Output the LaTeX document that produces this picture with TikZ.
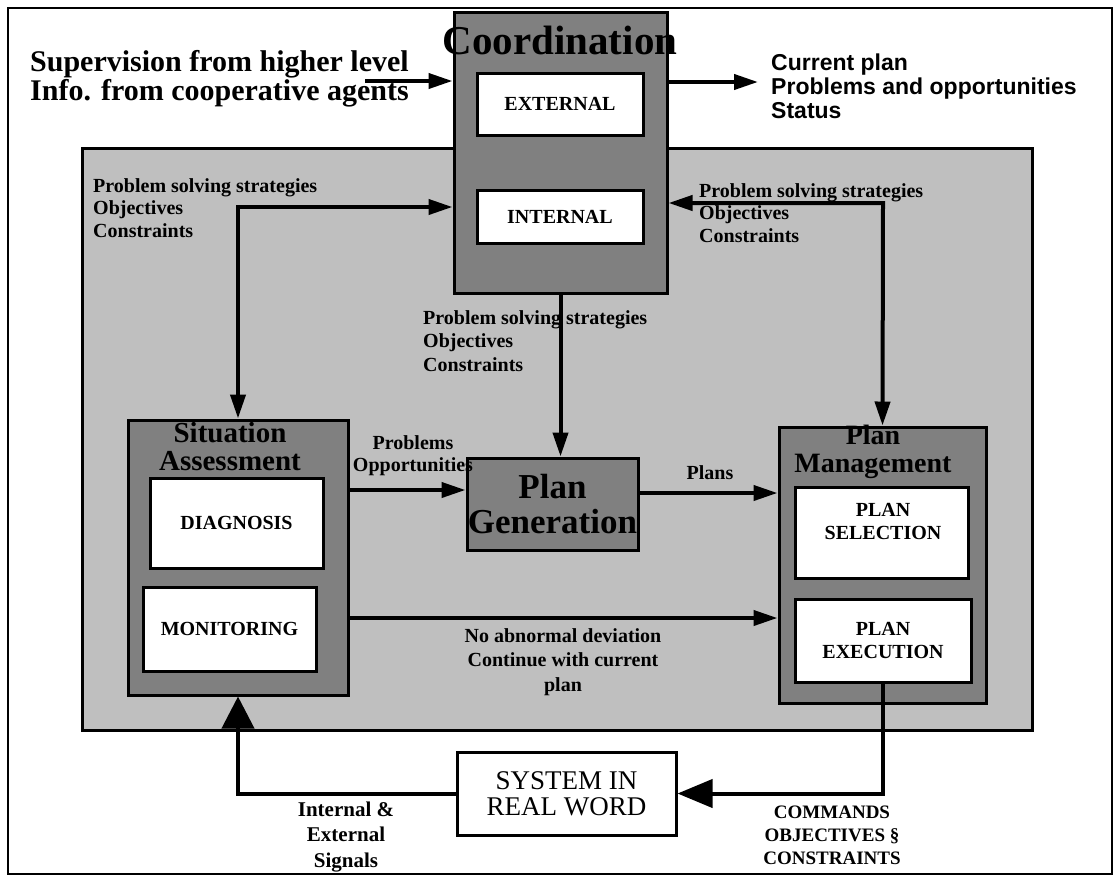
\documentclass[tikz,border=0pt]{standalone}
\usepackage{fontspec}
\setmainfont{Liberation Serif}
\setsansfont{Liberation Sans}
\usetikzlibrary{arrows.meta}
\newcommand\myfs[2]{\fontsize{#1}{#2}\selectfont}
\begin{document}
\begin{tikzpicture}[x=1pt,y=-1pt,
  darkbox/.style={draw, line width=3pt, fill=black!50, inner sep=0pt},
  whitebox/.style={draw, line width=3pt, fill=white, inner sep=0pt, align=center, font=\myfs{20}{23}\rmfamily\bfseries},
  lbl/.style={inner sep=0pt, align=left, font=\myfs{20}{22.5}\bfseries},
  clbl/.style={inner sep=0pt, align=center, font=\myfs{20}{23}\bfseries},
  title/.style={inner sep=0pt, align=center, font=\bfseries},
  arr/.style={line width=4pt, -{Triangle[length=24pt,width=15pt]}},
  arrB/.style={line width=4pt, {Triangle[length=24pt,width=15pt]}-{Triangle[length=24pt,width=15pt]}},
  bigup/.style={line width=4pt, -{Triangle[length=32pt,width=32pt]}},
  bigleft/.style={line width=4pt, -{Triangle[length=35pt,width=28pt]}}]
\useasboundingbox (0,0) rectangle (1118,879);
\fill[white] (0,0) rectangle (1118,879);
% outer frame
\draw[line width=2.5pt] (8,8) rectangle (1112,874);
% large shaded region
\node[draw, line width=3pt, fill=black!25, inner sep=0pt, minimum width=950pt, minimum height=582pt] (region) at (557,439) {};
% coordination
\node[darkbox, minimum width=213pt, minimum height=281pt] (coord) at (560.5,152.5) {};
\node[title, font=\myfs{41}{41}\bfseries] (coordT) at (560,40) {Coordination};
\node[whitebox, minimum width=166pt, minimum height=62pt] (ext) at (560,104) {EXTERNAL};
\node[whitebox, minimum width=166pt, minimum height=53pt] (int) at (560,216.5) {INTERNAL};
% situation assessment
\node[darkbox, minimum width=220pt, minimum height=275pt] (sa) at (238,557.5) {};
\node[title, font=\myfs{29}{28}\bfseries] (saT) at (230,447) {Situation\\Assessment};
\node[whitebox, minimum width=173pt, minimum height=90pt] (diag) at (236.5,523) {DIAGNOSIS};
\node[whitebox, minimum width=173pt, minimum height=84pt] (mon) at (229.5,629) {MONITORING};
% plan generation
\node[darkbox, minimum width=171pt, minimum height=92pt, align=center, font=\myfs{35}{35}\bfseries] (pg) at (552.5,504) {Plan\\Generation};
% plan management
\node[darkbox, minimum width=207pt, minimum height=276pt] (pm) at (882.5,565) {};
\node[title, font=\myfs{28}{27.5}\bfseries] (pmT) at (873,452) {Plan\\Management};
\node[whitebox, minimum width=173pt, minimum height=91pt] (psel) at (881.5,532.5) {};
\node[clbl] (pselT) at (883,521) {PLAN\\SELECTION};
\node[whitebox, minimum width=176pt, minimum height=83pt] (pexe) at (883,640.5) {PLAN\\EXECUTION};
% system in real world
\node[draw, line width=3pt, fill=white, inner sep=0pt, minimum width=219pt, minimum height=83pt, align=center, font=\myfs{27}{26}\rmfamily\mdseries] (sys) at (566.5,793.5) {SYSTEM IN\\REAL WORD};
% helper coordinates
\coordinate (supS) at (365,81);
\coordinate (statT) at (758,82);
\coordinate (lc) at (238,207);
\coordinate (rc) at (883,203);
\coordinate (yA) at (0,490);
\coordinate (yB) at (0,493);
\coordinate (yC) at (0,618);
% connectors
\draw[arr] (supS) -- (supS -| coord.west);
\draw[arr] (coord.east |- statT) -- (statT);
\draw[arrB] (sa.north) -- (lc) -- (lc -| coord.west);
\draw[arrB] (rc -| coord.east) -- (rc) -- (pm.north);
\draw[arr] (coord.south) -- (coord.south |- pg.north);
\draw[arr] (sa.east |- yA) -- (pg.west |- yA);
\draw[arr] (pg.east |- yB) -- (pm.west |- yB);
\draw[arr] (sa.east |- yC) -- (pm.west |- yC);
\draw[bigleft] (pexe.south) |- (sys.east);
\draw[bigup] (sys.west) -| (sa.south);
% labels
\node[lbl, anchor=west, font=\myfs{30}{29}\bfseries] (sup) at (30,79) {Supervision from higher level\\Info. from cooperative agents};
\node[lbl, anchor=west, font=\myfs{23}{24}\sffamily\bfseries] (status) at (771,86) {Current plan\\Problems and opportunities\\Status};
\node[lbl, anchor=west] (lL) at (93,208) {Problem solving strategies\\Objectives\\Constraints};
\node[lbl, anchor=west] (rL) at (699,213) {Problem solving strategies\\Objectives\\Constraints};
\node[lbl, anchor=west, font=\myfs{20}{23.5}\bfseries] (mL) at (423,341) {Problem solving strategies\\Objectives\\Constraints};
\node[clbl, font=\myfs{20}{22}\bfseries] (probL) at (413,456) {Problems\\Opportunities};
\node[clbl] (plansL) at (710,473) {Plans};
\node[clbl, font=\myfs{20}{24.5}\bfseries] (devL) at (563,662) {No abnormal deviation\\Continue with current\\plan};
\node[clbl, font=\myfs{21}{25.5}\bfseries] (sigL) at (346,837) {Internal \&\\External\\Signals};
\node[clbl, font=\myfs{19}{23}\bfseries] (cmdL) at (832,835) {COMMANDS\\OBJECTIVES §\\CONSTRAINTS};
\end{tikzpicture}
\end{document}
